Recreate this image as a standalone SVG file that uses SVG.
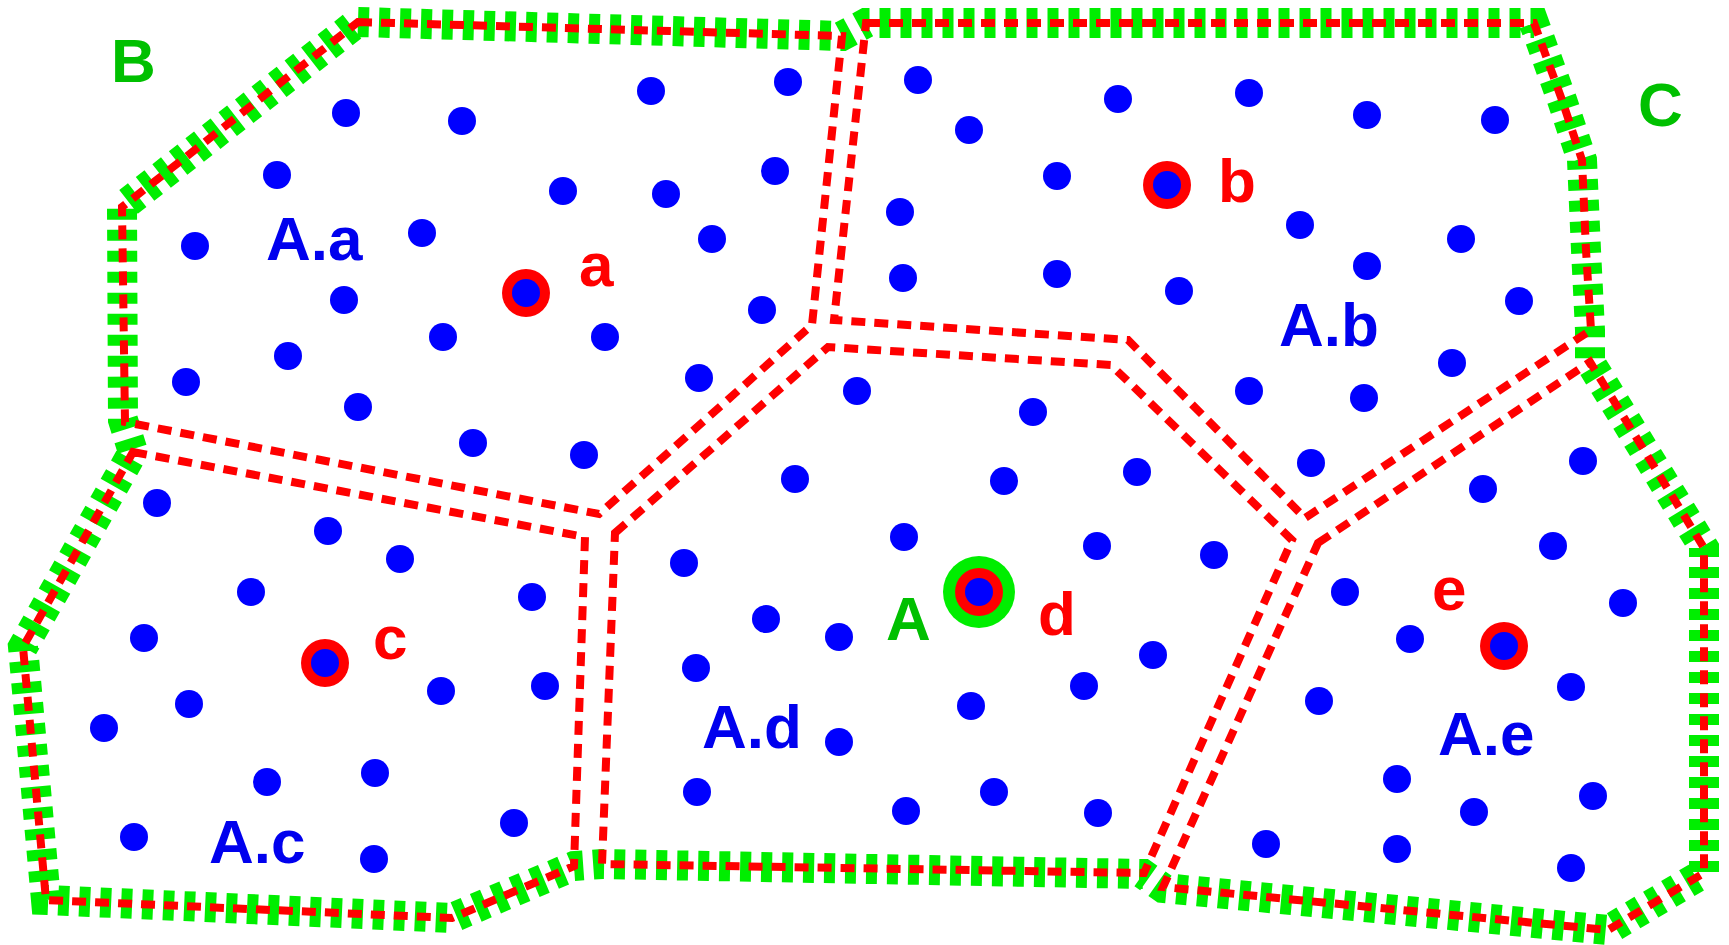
<svg xmlns="http://www.w3.org/2000/svg" width="1729" height="945" viewBox="0 0 1729 945">
<defs>
<style>
.outer{fill:none;stroke:#00ee00;stroke-width:30;stroke-dasharray:11 10;stroke-linejoin:miter}
.cell{fill:none;stroke:#ff0000;stroke-width:8;stroke-dasharray:14 9;stroke-linejoin:miter}
.dot{fill:#0000ff}
.ring{fill:#ff0000}
.halo{fill:#00ee00}
.lbl{font-family:"Liberation Sans",Arial,sans-serif;font-weight:bold;font-size:62px}
.blue{fill:#0000ee}
.red{fill:#ff0000}
.green{fill:#00c000}
</style>
</defs>
<rect width="1729" height="945" fill="#ffffff"/>

<g id="outer-boundary">
<polygon class="outer" points="358,22 842,36 866,23 1534,23 1562,100 1582,160 1586,250 1590,330 1590,362 1704,548 1704,873 1608,930 1163,888 1143,874 602,864 574,866 452,918 46,900 23,647 133,452 123,420 122,207"/>
</g>

<g id="connectors">
<polygon id="border-Aa" class="cell" points="358,22 842,36 812,325 599,514 125,422 122,207"/>
<polygon id="border-Ab" class="cell" points="866,23 1534,23 1562,100 1582,160 1586,250 1591,330 1305,518 1128,340 834,320"/>
<polygon id="border-Ac" class="cell" points="133,452 585,537 574,866 452,918 46,900 23,647"/>
<polygon id="border-Ad" class="cell" points="615,533 828,347 1111,365 1292,540 1144,873 602,864"/>
<polygon id="border-Ae" class="cell" points="1318,543 1590,362 1704,548 1704,873 1608,930 1163,887"/>
</g>

<g id="region-Aa">
<circle class="dot" cx="346" cy="113" r="14"/><circle class="dot" cx="462" cy="121" r="14"/>
<circle class="dot" cx="651" cy="91" r="14"/><circle class="dot" cx="788" cy="82" r="14"/>
<circle class="dot" cx="277" cy="175" r="14"/><circle class="dot" cx="563" cy="191" r="14"/>
<circle class="dot" cx="666" cy="194" r="14"/><circle class="dot" cx="775" cy="171" r="14"/>
<circle class="dot" cx="195" cy="246" r="14"/><circle class="dot" cx="422" cy="233" r="14"/>
<circle class="dot" cx="712" cy="239" r="14"/><circle class="dot" cx="344" cy="300" r="14"/>
<circle class="dot" cx="605" cy="337" r="14"/><circle class="dot" cx="443" cy="337" r="14"/>
<circle class="dot" cx="762" cy="310" r="14"/><circle class="dot" cx="288" cy="356" r="14"/>
<circle class="dot" cx="186" cy="382" r="14"/><circle class="dot" cx="699" cy="378" r="14"/>
<circle class="dot" cx="358" cy="407" r="14"/><circle class="dot" cx="473" cy="443" r="14"/>
<circle class="dot" cx="584" cy="455" r="14"/>
<text class="lbl blue" x="266" y="260">A.a</text>
</g>

<g id="node-a">
<circle class="ring" cx="526" cy="293" r="24"/><circle class="dot" cx="526" cy="293" r="14"/>
<text class="lbl red" x="579" y="286">a</text>
</g>

<g id="region-Ab">
<circle class="dot" cx="918" cy="80" r="14"/><circle class="dot" cx="969" cy="130" r="14"/>
<circle class="dot" cx="1118" cy="99" r="14"/><circle class="dot" cx="1057" cy="176" r="14"/>
<circle class="dot" cx="900" cy="212" r="14"/><circle class="dot" cx="903" cy="278" r="14"/>
<circle class="dot" cx="1057" cy="274" r="14"/><circle class="dot" cx="1249" cy="93" r="14"/>
<circle class="dot" cx="1367" cy="115" r="14"/><circle class="dot" cx="1495" cy="120" r="14"/>
<circle class="dot" cx="1300" cy="225" r="14"/><circle class="dot" cx="1461" cy="239" r="14"/>
<circle class="dot" cx="1367" cy="266" r="14"/><circle class="dot" cx="1179" cy="291" r="14"/>
<circle class="dot" cx="1519" cy="301" r="14"/><circle class="dot" cx="1452" cy="363" r="14"/>
<circle class="dot" cx="1249" cy="391" r="14"/><circle class="dot" cx="1364" cy="398" r="14"/>
<circle class="dot" cx="1311" cy="463" r="14"/>
<text class="lbl blue" x="1279" y="346">A.b</text>
</g>

<g id="node-b">
<circle class="ring" cx="1167" cy="185" r="24"/><circle class="dot" cx="1167" cy="185" r="14"/>
<text class="lbl red" x="1218" y="202">b</text>
</g>

<g id="region-Ac">
<circle class="dot" cx="157" cy="503" r="14"/><circle class="dot" cx="328" cy="531" r="14"/>
<circle class="dot" cx="400" cy="559" r="14"/><circle class="dot" cx="251" cy="592" r="14"/>
<circle class="dot" cx="532" cy="597" r="14"/><circle class="dot" cx="144" cy="638" r="14"/>
<circle class="dot" cx="189" cy="704" r="14"/><circle class="dot" cx="104" cy="728" r="14"/>
<circle class="dot" cx="441" cy="691" r="14"/><circle class="dot" cx="545" cy="686" r="14"/>
<circle class="dot" cx="267" cy="782" r="14"/><circle class="dot" cx="375" cy="773" r="14"/>
<circle class="dot" cx="134" cy="837" r="14"/><circle class="dot" cx="374" cy="859" r="14"/>
<circle class="dot" cx="514" cy="823" r="14"/>
<text class="lbl blue" x="209" y="863">A.c</text>
</g>

<g id="node-c">
<circle class="ring" cx="325" cy="663" r="24"/><circle class="dot" cx="325" cy="663" r="14"/>
<text class="lbl red" x="373" y="659">c</text>
</g>

<g id="region-Ad">
<circle class="dot" cx="857" cy="391" r="14"/><circle class="dot" cx="1033" cy="412" r="14"/>
<circle class="dot" cx="795" cy="479" r="14"/><circle class="dot" cx="1004" cy="481" r="14"/>
<circle class="dot" cx="1137" cy="472" r="14"/><circle class="dot" cx="904" cy="537" r="14"/>
<circle class="dot" cx="1097" cy="546" r="14"/><circle class="dot" cx="1214" cy="555" r="14"/>
<circle class="dot" cx="684" cy="563" r="14"/><circle class="dot" cx="766" cy="619" r="14"/>
<circle class="dot" cx="839" cy="637" r="14"/><circle class="dot" cx="696" cy="668" r="14"/>
<circle class="dot" cx="1153" cy="655" r="14"/><circle class="dot" cx="1084" cy="686" r="14"/>
<circle class="dot" cx="971" cy="706" r="14"/><circle class="dot" cx="839" cy="742" r="14"/>
<circle class="dot" cx="697" cy="792" r="14"/><circle class="dot" cx="906" cy="811" r="14"/>
<circle class="dot" cx="994" cy="792" r="14"/><circle class="dot" cx="1098" cy="813" r="14"/>
<text class="lbl blue" x="702" y="748">A.d</text>
</g>

<g id="node-d">
<circle class="halo" cx="979" cy="592" r="36"/>
<circle class="ring" cx="979" cy="592" r="24"/><circle class="dot" cx="979" cy="592" r="14"/>
<text class="lbl green" x="886" y="640">A</text>
<text class="lbl red" x="1038" y="635">d</text>
</g>

<g id="region-Ae">
<circle class="dot" cx="1583" cy="461" r="14"/><circle class="dot" cx="1483" cy="489" r="14"/>
<circle class="dot" cx="1553" cy="546" r="14"/><circle class="dot" cx="1345" cy="592" r="14"/>
<circle class="dot" cx="1623" cy="603" r="14"/><circle class="dot" cx="1410" cy="639" r="14"/>
<circle class="dot" cx="1571" cy="687" r="14"/><circle class="dot" cx="1319" cy="701" r="14"/>
<circle class="dot" cx="1397" cy="779" r="14"/><circle class="dot" cx="1474" cy="812" r="14"/>
<circle class="dot" cx="1593" cy="796" r="14"/><circle class="dot" cx="1266" cy="844" r="14"/>
<circle class="dot" cx="1397" cy="849" r="14"/><circle class="dot" cx="1571" cy="868" r="14"/>
<text class="lbl blue" x="1438" y="755">A.e</text>
</g>

<g id="node-e">
<circle class="ring" cx="1504" cy="646" r="24"/><circle class="dot" cx="1504" cy="646" r="14"/>
<text class="lbl red" x="1432" y="610">e</text>
</g>

<g id="label-B"><text class="lbl green" x="111" y="82">B</text></g>
<g id="label-C"><text class="lbl green" x="1638" y="126">C</text></g>
</svg>
